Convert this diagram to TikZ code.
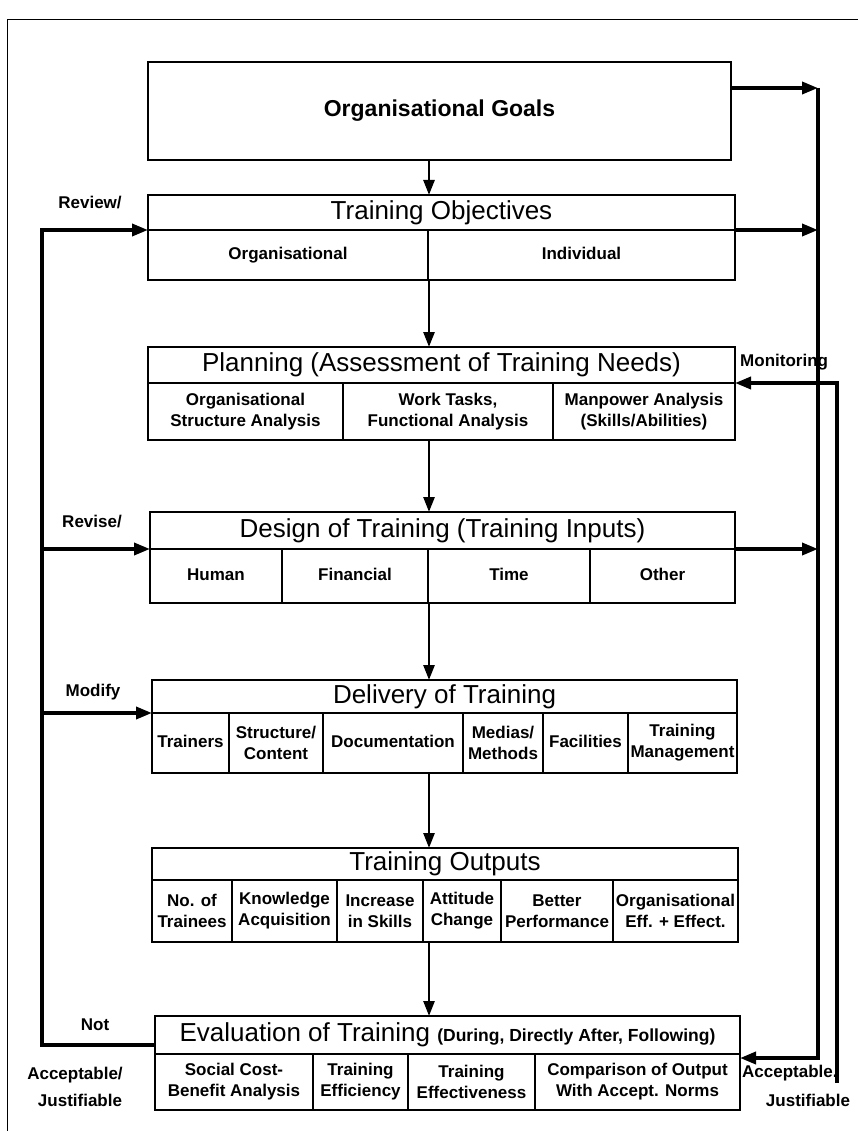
\documentclass[tikz,border=0pt]{standalone}
\usepackage{fontspec}
\setmainfont{Liberation Sans}
\usetikzlibrary{arrows.meta}

\newcommand\cellfont{\fontsize{17}{21}\selectfont\bfseries}
\newcommand\headfont{\fontsize{26}{28}\selectfont}

\tikzset{
  head/.style={draw, line width=1.3pt, anchor=north west, inner sep=0pt, outer sep=0pt, font=\headfont},
  cell/.style={draw, line width=1.3pt, anchor=north west, inner sep=0pt, outer sep=0pt, align=center, font=\cellfont},
  onecell/.style={cell, text height=12.5pt, text depth=3.5pt},
  flow/.style={line width=2.6pt, -{Triangle[length=15pt,width=11pt]}},
  looparrow/.style={line width=3.6pt, -{Triangle[length=16pt,width=12pt]}},
  tag/.style={font=\cellfont, inner sep=0pt},
}

\begin{document}
\begin{tikzpicture}[x=1pt, y=-1pt]
\useasboundingbox (0,0) rectangle (858,1131);

% outer frame
\draw[line width=0.9pt] (7,1131) -- (7,19) -- (858,19);

% goals
\node[head, font=\fontsize{23}{25}\selectfont\bfseries, minimum width=583pt, minimum height=98pt] (goals) at (148,62) {Organisational Goals};

% objectives
\node[head, minimum width=587pt, minimum height=35pt] (obj) at (148,195) {Training Objectives};
\node[onecell, minimum width=280pt, minimum height=50pt] (objorg) at (148,230) {Organisational};
\node[onecell, minimum width=307pt, minimum height=50pt] (objind) at (428,230) {Individual};

% planning
\node[head, minimum width=587pt, minimum height=36pt] (plan) at (148,347) {Planning (Assessment of Training Needs)};
\node[cell, minimum width=195pt, minimum height=57pt] (planorg) at (148,383) {Organisational\\Structure Analysis};
\node[cell, minimum width=210pt, minimum height=57pt] (plantask) at (343,383) {Work Tasks,\\Functional Analysis};
\node[cell, minimum width=182pt, minimum height=57pt] (planman) at (553,383) {Manpower Analysis\\(Skills/Abilities)};

% design
\node[head, minimum width=585pt, minimum height=37pt] (design) at (150,512) {Design of Training (Training Inputs)};
\node[onecell, minimum width=132pt, minimum height=54pt] (deshum) at (150,549) {Human};
\node[onecell, minimum width=146pt, minimum height=54pt] (desfin) at (282,549) {Financial};
\node[onecell, minimum width=162pt, minimum height=54pt] (destime) at (428,549) {Time};
\node[onecell, minimum width=145pt, minimum height=54pt] (desother) at (590,549) {Other};

% delivery
\node[head, minimum width=585pt, minimum height=33pt] (deliv) at (152,680) {Delivery of Training};
\node[onecell, minimum width=77pt, minimum height=60pt] (delivtr) at (152,713) {Trainers};
\node[cell, minimum width=94pt, minimum height=60pt] (delivstr) at (229,713) {Structure/\\Content};
\node[onecell, minimum width=140pt, minimum height=60pt] (delivdoc) at (323,713) {Documentation};
\node[cell, minimum width=80pt, minimum height=60pt] (delivmed) at (463,713) {Medias/\\Methods};
\node[onecell, minimum width=85pt, minimum height=60pt] (delivfac) at (543,713) {Facilities};
\node[cell, minimum width=109pt, minimum height=60pt] (delivman) at (628,713) {Training\\Management};

% outputs
\node[head, minimum width=586pt, minimum height=32pt] (outp) at (152,848) {Training Outputs};
\node[cell, minimum width=80pt, minimum height=62pt] (outno) at (152,880) {No. of\\Trainees};
\node[cell, minimum width=105pt, minimum height=62pt] (outknow) at (232,880) {Knowledge\\Acquisition};
\node[cell, minimum width=86pt, minimum height=62pt] (outskill) at (337,880) {Increase\\in Skills};
\node[cell, minimum width=78pt, minimum height=62pt] (outatt) at (423,880) {Attitude\\Change};
\node[cell, minimum width=112pt, minimum height=62pt] (outperf) at (501,880) {Better\\Performance};
\node[cell, minimum width=125pt, minimum height=62pt] (outorg) at (613,880) {Organisational\\Eff. + Effect.};

% evaluation
\node[head, minimum width=585pt, minimum height=38pt] (eval) at (155,1016) {Evaluation of Training {\fontsize{17.5}{19}\selectfont\bfseries(During, Directly After, Following)}};
\node[cell, minimum width=158pt, minimum height=56pt] (evalcost) at (155,1054) {Social Cost-\\Benefit Analysis};
\node[cell, minimum width=95pt, minimum height=56pt] (evaleff) at (313,1054) {Training\\Efficiency};
\node[cell, minimum width=127pt, minimum height=56pt] (evaleffect) at (408,1054) {Training\\Effectiveness};
\node[cell, minimum width=205pt, minimum height=56pt] (evalcomp) at (535,1054) {Comparison of Output\\With Accept. Norms};

% side labels
\node[tag] (review) at (90,203) {Review/};
\node[tag] (revise) at (92,522) {Revise/};
\node[tag] (modify) at (93,692) {Modify};
\node[tag] (notacc) at (95,1025) {Not};
\node[tag] (accleft) at (75,1075) {Acceptable/};
\node[tag] (justleft) at (80,1100) {Justifiable};
\node[tag, anchor=west] (monitor) at (740,362) {Monitoring};
\node[tag, anchor=west] (accright) at (742,1073) {Acceptable.};
\node[tag] (justright) at (808,1100) {Justifiable};

% main flow
\coordinate (spine) at (429,0);
\draw[flow] (goals.south -| spine) -- (obj.north -| spine);
\draw[flow] (objorg.south -| spine) -- (plan.north -| spine);
\draw[flow] (planorg.south -| spine) -- (design.north -| spine);
\draw[flow] (deshum.south -| spine) -- (deliv.north -| spine);
\draw[flow] (delivtr.south -| spine) -- (outp.north -| spine);
\draw[flow] (outno.south -| spine) -- (eval.north -| spine);

% right side
\coordinate (right) at (818,0);
\coordinate (mon) at (837,1083);
\coordinate (gout) at ([yshift=-26pt]goals.north east);
\coordinate (evin) at ([yshift=-4pt]eval.south east);
\draw[looparrow] (gout) -- (gout -| right);
\draw[looparrow] (obj.south east) -- (obj.south east -| right);
\draw[looparrow] (design.south east) -- (design.south east -| right);
\draw[looparrow] (gout -| right) -- (evin -| right) -- (evin);
\draw[looparrow] (mon) -- (mon |- plan.south east) -- (plan.south east);

% left side
\coordinate (lft) at (42,1045);
\draw[looparrow] (eval.west |- lft) -- (lft) -- (lft |- obj.south west) -- (obj.south west);
\draw[looparrow] (lft |- design.south west) -- (design.south west);
\draw[looparrow] (lft |- deliv.south west) -- (deliv.south west);
\end{tikzpicture}
\end{document}
